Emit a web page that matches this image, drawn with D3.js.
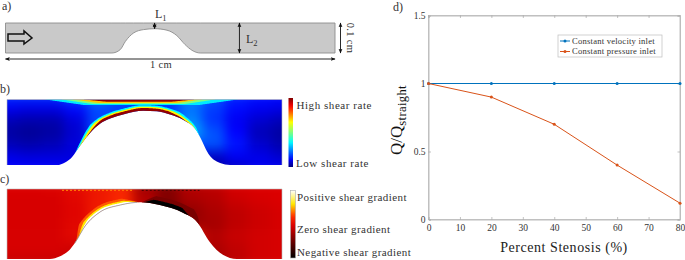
<!DOCTYPE html>
<html>
<head>
<meta charset="utf-8">
<script src="https://cdn.jsdelivr.net/npm/d3@7"></script>
<style>
  body { margin: 0; background: #fff; }
  text { font-family: "Liberation Serif", serif; fill: #333; }
</style>
</head>
<body>
<script>
var width = 685,
    height = 260;

// channel outlines: x in cm along the channel, wall height in cm
var bumpAX = [0, 0.323, 0.348, 0.364, 0.389, 0.419, 0.453, 0.49, 0.52, 0.545, 0.566, 0.591, 1];
var bumpAH = [0, 0, 0.011, 0.039, 0.067, 0.078, 0.081, 0.076, 0.058, 0.028, 0.009, 0, 0];
var bumpBX = [0, 0.182, 0.211, 0.236, 0.265, 0.302, 0.338, 0.375, 0.429, 0.495, 0.545, 0.593, 0.64, 0.691, 0.71, 0.727, 0.775, 0.811, 1];
var bumpBH = [0, 0, 0.004, 0.012, 0.029, 0.049, 0.063, 0.071, 0.078, 0.083, 0.082, 0.077, 0.069, 0.051, 0.036, 0.021, 0.003, 0, 0];
var bumpCX = [0, 0.156, 0.193, 0.222, 0.247, 0.284, 0.338, 0.411, 0.484, 0.556, 0.64, 0.691, 0.738, 0.785, 0.836, 1];
var bumpCH = [0, 0, 0.004, 0.011, 0.023, 0.047, 0.067, 0.077, 0.081, 0.077, 0.066, 0.053, 0.024, 0.006, 0, 0];

// fields, rows run from top wall to bottom wall
var shearGrid = [
  [.16, .16, .16, .20, .26, .22, .18, .20, .26, .20, .15, .13, .12],
  [.10, .09, .09, .12, .18, .16, .15, .15, .22, .17, .12, .10, .09],
  [.05, .04, .04, .08, .18, .20, .20, .20, .24, .16, .10, .07, .05],
  [.03, .02, .03, .07, .18, .20, .20, .24, .28, .19, .11, .05, .03],
  [.05, .04, .05, .08, .14, .15, .15, .18, .18, .19, .13, .07, .04],
  [.09, .08, .08, .08, .10, .10, .10, .10, .10, .06, .10, .09, .07],
  [.11, .11, .11, .10, .10, .10, .10, .05, .05, .03, .06, .10, .10]
];
var gradGrid = [
  [.48, .48, .49, .51, .55, .58, .36, .30, .40, .42, .47, .48, .48],
  [.47, .47, .47, .50, .55, .60, .40, .30, .38, .40, .45, .47, .48],
  [.47, .47, .47, .49, .56, .58, .40, .25, .33, .38, .42, .45, .47],
  [.47, .47, .47, .50, .54, .50, .45, .40, .35, .37, .42, .45, .47],
  [.47, .47, .47, .50, .50, .50, .50, .50, .55, .40, .44, .46, .47],
  [.47, .47, .47, .45, .45, .45, .45, .40, .40, .38, .42, .46, .47],
  [.44, .44, .44, .44, .44, .44, .44, .40, .38, .36, .42, .46, .47]
];

// thin boundary layers: start and end along the channel (cm), colour value
var shearWallStart = [0.25, 0.262, 0.29];
var shearWallEnd = [0.70, 0.685, 0.66];
var shearWallValue = [0.36, 0.66, 0.98];
var shearTopStart = [0.14, 0.2, 0.24, 0.28];
var shearTopEnd = [0.84, 0.76, 0.71, 0.68];
var shearTopValue = [0.34, 0.5, 0.7, 0.98];
var gradWallStart = [0.25, 0.26, 0.27];
var gradWallEnd = [0.478, 0.478, 0.478];
var gradWallValue = [0.66, 0.8, 1];
var gradDarkStart = [0.49, 0.495];
var gradDarkEnd = [0.7, 0.665];
var gradDarkValue = [0.28, 0];

// panel d
var stenosis = [0, 20, 40, 60, 80];
var velocityInlet = [1, 1, 1, 1, 1];
var pressureInlet = [1, 0.9, 0.7, 0.4, 0.12];
var xTicks = [0, 10, 20, 30, 40, 50, 60, 70, 80];
var yTicks = [0, 0.5, 1, 1.5];
var legendLabels = ["Constant velocity inlet", "Constant pressure inlet"];
var seriesColors = ["#0072bd", "#d95319"];

var jet = d3.scaleLinear()
  .domain([0, 0.11, 0.36, 0.5, 0.65, 0.88, 1])
  .range(["#00007f", "#0000ff", "#00ffff", "#7fff7f", "#ffff00", "#ff0000", "#7f0000"]);
var hot = d3.scaleLinear()
  .domain([0, 0.28, 0.48, 0.62, 0.8, 1])
  .range(["#000000", "#7a0000", "#dc0000", "#ff3000", "#ffe800", "#ffffff"]);

var svg = d3.select("body").append("svg")
  .attr("width", width)
  .attr("height", height)
  .style("display", "block");

var defs = svg.append("defs");
function blur(id, dev) {
  // user space region, a flat layer has a zero height bounding box
  defs.append("filter").attr("id", id)
    .attr("filterUnits", "userSpaceOnUse")
    .attr("x", -20).attr("y", -20).attr("width", width + 40).attr("height", height + 40)
    .attr("color-interpolation-filters", "sRGB")
    .append("feGaussianBlur").attr("stdDeviation", dev);
}
blur("soft", 6);
blur("thin", 0.6);

defs.append("marker").attr("id", "head")
  .attr("viewBox", "0 0 8 8").attr("refX", 7).attr("refY", 4)
  .attr("markerWidth", 5.5).attr("markerHeight", 5.5).attr("orient", "auto-start-reverse")
  .append("path").attr("d", "M0,0.8L8,4L0,7.2L1.8,4Z").attr("fill", "#111");

function channel(id, x0, x1, y0, y1, bx, bh) {
  var x = d3.scaleLinear().domain([0, 1]).range([x0, x1]);
  var y = d3.scaleLinear().domain([0, 0.1]).range([y1, y0]);
  var pts = d3.zip(bx, bh);
  var area = d3.area()
    .x(function (d) { return x(d[0]); })
    .y0(y(0.1))
    .y1(function (d) { return y(d[1]); })
    .curve(d3.curveMonotoneX);
  var wallLine = d3.line()
    .x(function (d) { return x(d[0]); })
    .y(function (d) { return y(d[1]); })
    .curve(d3.curveMonotoneX);
  defs.append("clipPath").attr("id", id).append("path").attr("d", area(pts));
  // walk the drawn wall curve so the layers follow it exactly
  var probe = defs.append("path").attr("d", wallLine(pts)).node();
  var total = probe.getTotalLength();
  var samples = d3.range(0, total, 0.8).map(function (l) {
    var q = probe.getPointAtLength(l);
    return [q.x, q.y];
  });
  var wall = function (a, b) {
    return samples.filter(function (q) { return q[0] >= x(a) && q[0] <= x(b); });
  };
  return { x: x, y: y, pts: pts, area: area, wallLine: wallLine, wall: wall };
}

// panel a, the geometry sketch
var chA = channel("clipA", 5.5, 335, 23, 53, bumpAX, bumpAH);
svg.append("path")
  .attr("d", chA.area(chA.pts))
  .attr("fill", "#c9c9c9")
  .attr("stroke", "#8c8c8c")
  .attr("stroke-width", 0.9);

function dimension(x1, y1, x2, y2) {
  svg.append("line")
    .attr("x1", x1).attr("y1", y1).attr("x2", x2).attr("y2", y2)
    .attr("stroke", "#111").attr("stroke-width", 0.9)
    .attr("marker-start", "url(#head)").attr("marker-end", "url(#head)");
}
dimension(chA.x(0.4525), chA.y(0.1), chA.x(0.4525), chA.y(0.081));
dimension(chA.x(0.71), chA.y(0.1), chA.x(0.71), chA.y(0));
dimension(340.5, chA.y(0.1), 340.5, chA.y(0));
dimension(chA.x(0), 59, chA.x(1), 59);

var inletArrow = d3.line()([[8, 34], [24, 34], [24, 31], [32, 38], [24, 44], [24, 41], [8, 41]]);
svg.append("path")
  .attr("d", inletArrow + "Z")
  .attr("fill", "#c9c9c9")
  .attr("stroke", "#111")
  .attr("stroke-width", 1.5);

function label(txt, x, y, size, anchor) {
  return svg.append("text")
    .attr("x", x).attr("y", y)
    .attr("font-size", size)
    .attr("text-anchor", anchor || "start")
    .text(txt);
}
function subLabel(base, sub, x, y) {
  var t = label(base, x, y, 12);
  t.append("tspan").attr("dy", 2.5).attr("font-size", 8.5).text(sub);
}
label("a)", 2, 10, 12);
label("b)", 0, 93, 12);
label("c)", 0, 183, 12);
label("d)", 393, 11, 12);
subLabel("L", "1", 155, 18);
subLabel("L", "2", 246, 43);
label("1 cm", 161, 68, 10.5, "middle").attr("letter-spacing", 0.3);
svg.append("text")
  .attr("transform", "translate(347,38) rotate(90)")
  .attr("font-size", 10.5).attr("text-anchor", "middle").attr("letter-spacing", 0.3)
  .text("0.1 cm");

// heat maps: grid cells get blurred, layers sit on top, the channel clips all of it
function heat(ch, clipId, grid, color) {
  var g = svg.append("g").attr("clip-path", "url(#" + clipId + ")");
  var nRows = grid.length, nCols = grid[0].length;
  var col = d3.scaleBand().domain(d3.range(nCols)).range([ch.x(0) - 12, ch.x(1) + 12]);
  var row = d3.scaleBand().domain(d3.range(nRows)).range([ch.y(0.1) - 10, ch.y(0) + 10]);
  g.append("g").attr("filter", "url(#soft)")
    .selectAll("g").data(grid).enter().append("g")
    .attr("transform", function (d, i) { return "translate(0," + row(i) + ")"; })
    .selectAll("rect").data(function (d) { return d; }).enter().append("rect")
    .attr("x", function (d, i) { return col(i); })
    .attr("width", col.bandwidth() + 0.5)
    .attr("height", row.bandwidth() + 0.5)
    .attr("fill", function (d) { return color(d); });
  return g;
}

// a layer is a sliver that grows out of the wall and tapers at both ends
function layers(g, ch, starts, ends, values, color, thick, onTop) {
  g.append("g").attr("filter", "url(#thin)")
    .selectAll("path").data(values).enter().append("path")
    .attr("d", function (d, i) {
      var px = ch.wall(starts[i], ends[i]);
      if (onTop) {
        px = d3.range(ch.x(starts[i]), ch.x(ends[i]), 1).map(function (v) { return [v, ch.y(0.1)]; });
      }
      var n = px.length;
      var off = px.map(function (q, k) {
        var a = px[Math.max(k - 2, 0)], b = px[Math.min(k + 2, n - 1)];
        var dx = b[0] - a[0], dy = b[1] - a[1], len = Math.hypot(dx, dy);
        var taper = Math.min(1, k / (n * 0.2), (n - 1 - k) / (n * 0.2));
        var t = thick[i] * taper;
        return onTop ? [q[0], q[1] + t] : [q[0] + dy / len * t, q[1] - dx / len * t];
      });
      var edge = px.map(function (q) { return [q[0], q[1] + (onTop ? -2 : 2)]; });
      return d3.line()(edge.concat(off.reverse())) + "Z";
    })
    .attr("fill", function (d) { return color(d); });
}

var chB = channel("clipB", 7, 282, 99.5, 165, bumpBX, bumpBH);
var shearG = heat(chB, "clipB", shearGrid, jet);
layers(shearG, chB, shearWallStart, shearWallEnd, shearWallValue, jet, [5.5, 4, 2.6], false);
layers(shearG, chB, shearTopStart, shearTopEnd, shearTopValue, jet, [5.5, 4.6, 3.6, 2.2], true);

var chC = channel("clipC", 7, 282, 189, 259, bumpCX, bumpCH);
var gradG = heat(chC, "clipC", gradGrid, hot);
layers(gradG, chC, gradWallStart, gradWallEnd, gradWallValue, hot, [6, 3.6, 2], false);
layers(gradG, chC, gradDarkStart, gradDarkEnd, gradDarkValue, hot, [8, 4], false);
// grainy dotted rows near the top wall
gradG.append("line")
  .attr("x1", chC.x(0.2)).attr("x2", chC.x(0.46))
  .attr("y1", chC.y(0.098)).attr("y2", chC.y(0.098))
  .attr("stroke", "#ff7000").attr("stroke-width", 1.3).attr("stroke-dasharray", "2 2");
gradG.append("line")
  .attr("x1", chC.x(0.49)).attr("x2", chC.x(0.7))
  .attr("y1", chC.y(0.098)).attr("y2", chC.y(0.098))
  .attr("stroke", "#500000").attr("stroke-width", 1.3).attr("stroke-dasharray", "2 2");
// thin grey edge along the rising wall
svg.append("path")
  .attr("d", d3.line().curve(d3.curveMonotoneX)(chC.wall(0.245, 0.475)))
  .attr("fill", "none").attr("stroke", "#9a9a9a").attr("stroke-width", 0.9);

// thin frame on the heat maps
[chB, chC].forEach(function (ch) {
  svg.append("path")
    .attr("d", d3.line()([[ch.x(0), ch.y(0)], [ch.x(0), ch.y(0.1)], [ch.x(1), ch.y(0.1)], [ch.x(1), ch.y(0)]]))
    .attr("fill", "none").attr("stroke", "#bbb").attr("stroke-width", 0.6);
});

// colour bars
function colorbar(id, x, y0, y1, w, color, stroke) {
  var grad = defs.append("linearGradient").attr("id", id)
    .attr("x1", 0).attr("y1", 1).attr("x2", 0).attr("y2", 0);
  d3.range(0, 1.001, 0.05).forEach(function (t) {
    grad.append("stop").attr("offset", t).attr("stop-color", color(t));
  });
  svg.append("rect")
    .attr("x", x).attr("y", y0).attr("width", w).attr("height", y1 - y0)
    .attr("fill", "url(#" + id + ")")
    .attr("stroke", stroke).attr("stroke-width", 0.6);
}
colorbar("barJet", 288.5, 98, 167, 4.5, jet, "none");
colorbar("barHot", 290.5, 190.5, 258, 5, hot, "#aaa");
label("High shear rate", 296.5, 109, 11).attr("letter-spacing", 0.55);
label("Low shear rate", 296, 167, 11).attr("letter-spacing", 0.55);
label("Positive shear gradient", 297, 201, 11).attr("letter-spacing", 0.42);
label("Zero shear gradient", 297, 233, 11).attr("letter-spacing", 0.42);
label("Negative shear gradient", 297, 256, 11).attr("letter-spacing", 0.42);

// panel d, the line chart
var xD = d3.scaleLinear().domain([0, 80]).range([428.5, 680]);
var yD = d3.scaleLinear().domain([0, 1.5]).range([219.5, 15.5]);

var plot = svg.append("g");
plot.append("rect")
  .attr("x", xD(0)).attr("y", yD(1.5))
  .attr("width", xD(80) - xD(0)).attr("height", yD(0) - yD(1.5))
  .attr("fill", "none").attr("stroke", "#bdbdbd").attr("stroke-width", 0.9);

var xAxis = d3.axisBottom(xD).tickValues(xTicks).tickSize(-2.5).tickPadding(5).tickFormat(d3.format("d"));
var yAxis = d3.axisLeft(yD).tickValues(yTicks).tickSize(-2.5).tickPadding(3).tickFormat(function (d) { return d; });
plot.append("g").attr("transform", "translate(0," + yD(0) + ")").call(xAxis);
plot.append("g").attr("transform", "translate(" + xD(0) + ",0)").call(yAxis);
plot.append("g").attr("transform", "translate(0," + yD(1.5) + ")")
  .call(d3.axisTop(xD).tickValues(xTicks).tickSize(-2.5).tickFormat(""));
plot.append("g").attr("transform", "translate(" + xD(80) + ",0)")
  .call(d3.axisRight(yD).tickValues(yTicks).tickSize(-2.5).tickFormat(""));
plot.selectAll(".domain").attr("stroke", "#bdbdbd");
plot.selectAll(".tick line").attr("stroke", "#9a9a9a").attr("stroke-width", 0.6);
plot.selectAll(".tick text")
  .attr("font-family", '"Liberation Serif", serif')
  .attr("font-size", 9.5).attr("fill", "#444");

var seriesLine = d3.line()
  .x(function (d) { return xD(d[0]); })
  .y(function (d) { return yD(d[1]); });

[velocityInlet, pressureInlet].forEach(function (vals, i) {
  var pts = d3.zip(stenosis, vals);
  plot.append("path")
    .attr("d", seriesLine(pts))
    .attr("fill", "none")
    .attr("stroke", seriesColors[i])
    .attr("stroke-width", 1);
  plot.append("g").selectAll("circle").data(pts).enter().append("circle")
    .attr("cx", function (d) { return xD(d[0]); })
    .attr("cy", function (d) { return yD(d[1]); })
    .attr("r", 1.5)
    .attr("fill", seriesColors[i]);
});

var legend = svg.append("g");
legend.append("rect")
  .attr("x", 558).attr("y", 35).attr("width", 104).attr("height", 22)
  .attr("fill", "#fff").attr("stroke", "#bdbdbd").attr("stroke-width", 0.7);
legendLabels.forEach(function (txt, i) {
  var ly = 41 + i * 10.5;
  legend.append("line")
    .attr("x1", 560).attr("x2", 570).attr("y1", ly).attr("y2", ly)
    .attr("stroke", seriesColors[i]).attr("stroke-width", 1);
  legend.append("circle").attr("cx", 565).attr("cy", ly).attr("r", 1.5).attr("fill", seriesColors[i]);
  legend.append("text")
    .attr("x", 572).attr("y", ly + 2.8)
    .attr("font-size", 8.6).attr("letter-spacing", 0.22)
    .text(txt);
});

label("Percent Stenosis (%)", 564, 252, 14, "middle").attr("letter-spacing", 0.55).style("fill", "#222");
var yTitle = svg.append("text")
  .attr("transform", "translate(402,120) rotate(-90)")
  .attr("font-size", 17)
  .attr("text-anchor", "middle")
  .style("fill", "#111")
  .text("Q/Q");
yTitle.append("tspan").attr("dy", 3.5).attr("font-size", 12.5).attr("letter-spacing", 0.4).text("straight");
</script>
</body>
</html>
